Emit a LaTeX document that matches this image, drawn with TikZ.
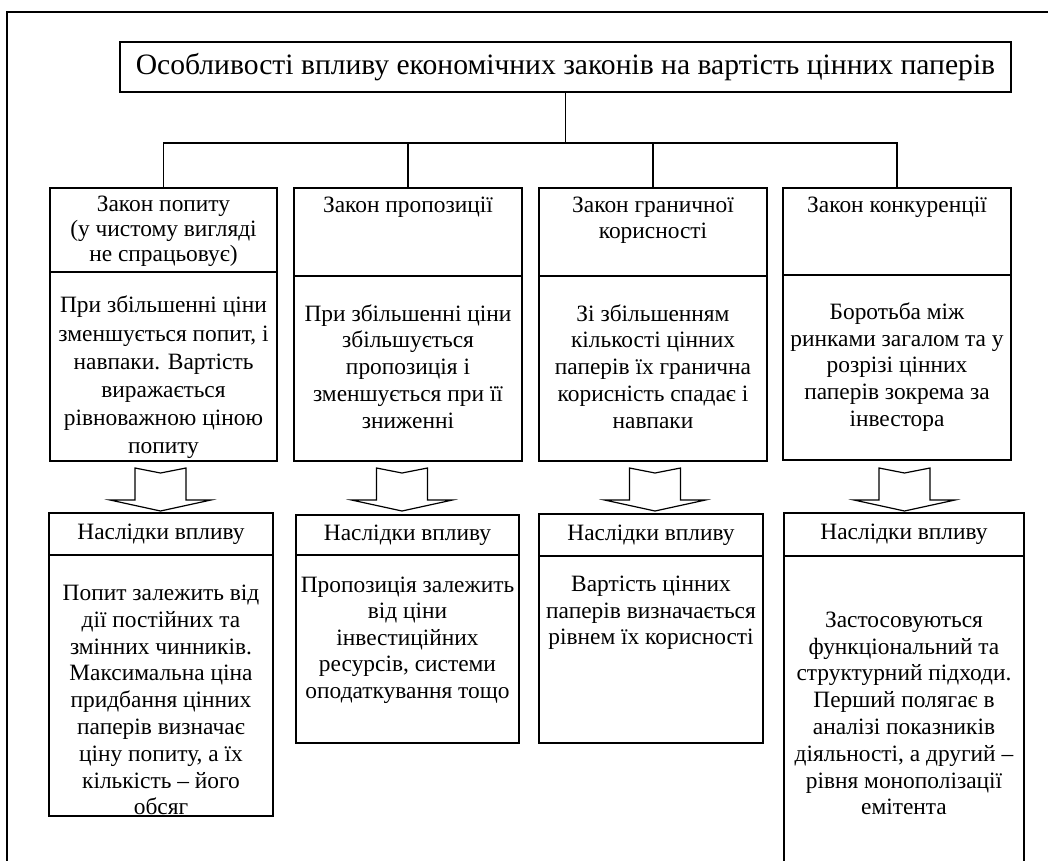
\documentclass[tikz,border=0pt]{standalone}
\usepackage{fontspec}
\setmainfont{Liberation Serif}
\begin{document}
\begin{tikzpicture}[x=1pt,y=-1pt,line width=1.3pt,
  frame/.style={draw,inner sep=0pt,outer sep=0pt,anchor=north west},
  txt/.style={inner sep=0pt,align=center,font=\fontsize{23.4}{#1}\selectfont},
  txt/.default=27,
  blockarrow/.pic={\draw[line width=1.2pt] (-25.5,0) -- (0,5) -- (25.5,0) -- (25.5,32) -- (50.5,32) -- (0,43) -- (-50.5,32) -- (-25.5,32) -- cycle;}]
\useasboundingbox (0,0) rectangle (1048,860);
\clip (0,0) rectangle (1048,860);
\fill[white] (0,0) rectangle (1048,860);
% outer frame
\draw (7,900) -- (7,12) -- (1070,12);
% title
\node[frame,minimum width=891pt,minimum height=50pt,font=\fontsize{29.6}{35}\selectfont] (title) at (120,42) {Особливості впливу економічних законів на вартість цінних паперів};
% top boxes: headers and bodies
\node[frame,minimum width=227pt,minimum height=84pt] (h1) at (50,188) {};
\node[frame,minimum width=227pt,minimum height=189pt] (b1) at (50,272) {};
\node[frame,minimum width=228pt,minimum height=88pt] (h2) at (294,188) {};
\node[frame,minimum width=228pt,minimum height=185pt] (b2) at (294,276) {};
\node[frame,minimum width=228pt,minimum height=88pt] (h3) at (539,188) {};
\node[frame,minimum width=228pt,minimum height=185pt] (b3) at (539,276) {};
\node[frame,minimum width=228pt,minimum height=87pt] (h4) at (783,188) {};
\node[frame,minimum width=228pt,minimum height=185pt] (b4) at (783,275) {};
% connectors
\coordinate (bus) at (565.5,143);
\draw (title.south) -- (bus);
\draw (h1.north) |- (bus) -| (h4.north);
\draw (h2.north) -- (h2.north |- bus);
\draw (h3.north) -- (h3.north |- bus);
% header texts
\node[txt=25] at (163.5,231) {Закон попиту\\(у чистому вигляді\\не спрацьовує)};
\node[txt] at (408,207) {Закон пропозиції};
\node[txt=26] at (653,220) {Закон граничної\\корисності};
\node[txt] at (897,207) {Закон конкуренції};
% body texts
\node[txt=28.2] at (163.5,377.5) {При збільшенні ціни\\зменшується попит, і\\навпаки. Вартість\\виражається\\рівноважною ціною\\попиту};
\node[txt=26.8] at (408,366.5) {При збільшенні ціни\\збільшується\\пропозиція і\\зменшується при її\\зниженні};
\node[txt=26.8] at (653,366.5) {Зі збільшенням\\кількості цінних\\паперів їх гранична\\корисність спадає і\\навпаки};
\node[txt=26.8] at (897,367) {Боротьба між\\ринками загалом та у\\розрізі цінних\\паперів зокрема за\\інвестора};
% arrows
\pic at (160.5,468) {blockarrow};
\pic at (402,468) {blockarrow};
\pic at (655,468) {blockarrow};
\pic at (904.5,468) {blockarrow};
% bottom boxes
\node[frame,minimum width=224pt,minimum height=42pt] (c1h) at (49,513) {};
\node[frame,minimum width=224pt,minimum height=261pt] (c1) at (49,555) {};
\node[frame,minimum width=223pt,minimum height=40pt] (c2h) at (296,515) {};
\node[frame,minimum width=223pt,minimum height=188pt] (c2) at (296,555) {};
\node[frame,minimum width=224pt,minimum height=42pt] (c3h) at (539,514) {};
\node[frame,minimum width=224pt,minimum height=187pt] (c3) at (539,556) {};
\node[frame,minimum width=240pt,minimum height=43pt] (c4h) at (784,513) {};
\node[frame,minimum width=240pt,minimum height=400pt] (c4) at (784,556) {};
\node[txt] at (c1h.center) {Наслідки впливу};
\node[txt] at (c2h.center) {Наслідки впливу};
\node[txt] at (c3h.center) {Наслідки впливу};
\node[txt] at (c4h.center) {Наслідки впливу};
\node[txt=26.8] at (161,700) {Попит залежить від\\дії постійних та\\змінних чинників.\\Максимальна ціна\\придбання цінних\\паперів визначає\\ціну попиту, а їх\\кількість – його\\обсяг};
\node[txt=26.5] at (407.5,640) {Пропозиція залежить\\від ціни\\інвестиційних\\ресурсів, системи\\оподаткування тощо};
\node[txt=26.5] at (651,613) {Вартість цінних\\паперів визначається\\рівнем їх корисності};
\node[txt=26.8] at (904,713.5) {Застосовуються\\функціональний та\\структурний підходи.\\Перший полягає в\\аналізі показників\\діяльності, а другий –\\рівня монополізації\\емітента};
\end{tikzpicture}
\end{document}
